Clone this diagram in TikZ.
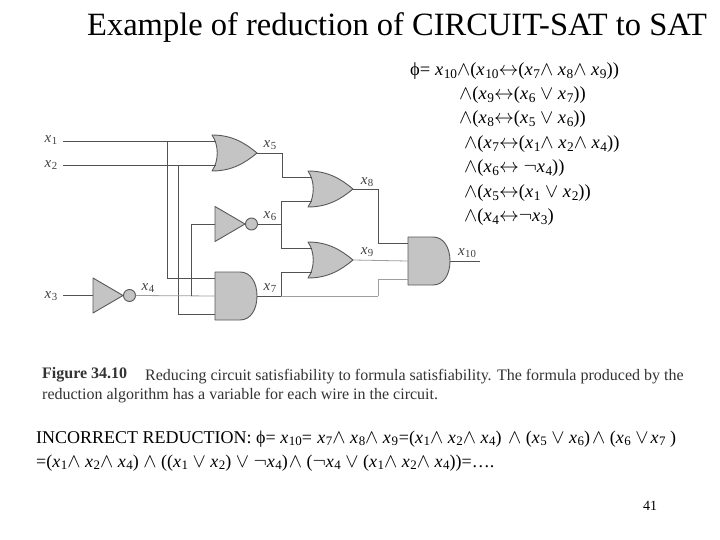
\documentclass[tikz,border=0pt]{standalone}
\usepackage{fontspec}
\setmainfont{Liberation Serif}
\usetikzlibrary{calc}
\newcommand\xv[1]{\textit{x}\kern.03em\raisebox{-.32ex}{\scalebox{.72}{#1}}}
\newcommand\myand{\scalebox{1.15}{$\wedge$}}
\newcommand\myor{\scalebox{1.15}{$\vee$}}
\newcommand\mynot{\scalebox{1.15}{$\neg$}}
\newcommand\myiff{\scalebox{1.15}{$\leftrightarrow$}}
\newcommand\myphi{ϕ}
\tikzset{
  x=1pt,y=-1pt,
  gatebody/.style={draw=black!65,fill=black!23,line width=.9pt,line join=round},
  wire/.style={draw=black!68,line width=.9pt},
  lightwire/.style={draw=black!38,line width=.8pt},
  wlabel/.style={inner sep=0pt,font=\fontsize{15}{15}\selectfont,text=black!75},
  formula/.style={anchor=base west,inner sep=0pt,font=\fontsize{18.5}{18.5}\selectfont},
  bottomline/.style={anchor=base west,inner sep=0pt,font=\fontsize{18}{18}\selectfont},
  captionline/.style={anchor=base west,inner sep=0pt,font=\fontsize{16}{16}\selectfont,text=black!80},
  orgate/.pic={
    \draw[gatebody] (0,-18) .. controls (20,-18) and (33,-10) .. (45,0)
      .. controls (33,10) and (20,18) .. (0,18)
      .. controls (7,8) and (7,-8) .. (0,-18) -- cycle;
    \coordinate (-a) at (3.5,-12);
    \coordinate (-b) at (3.5,12);
    \coordinate (-out) at (45,0);
  },
  andgate/.pic={
    \draw[gatebody] (0,-24) -- (25,-24) .. controls (36,-24) and (42,-13) .. (42,0)
      .. controls (42,13) and (36,24) .. (25,24) -- (0,24) -- cycle;
    \coordinate (-a) at (0,-18);
    \coordinate (-b) at (0,0);
    \coordinate (-c) at (0,18);
    \coordinate (-out) at (42,0);
  },
  notgate/.pic={
    \draw[gatebody] (0,-17.5) -- (30,0) -- (0,17.5) -- cycle;
    \draw[gatebody] (36.5,0) circle (6);
    \coordinate (-in) at (0,0);
    \coordinate (-out) at (42.5,0);
  },
}
\begin{document}
\begin{tikzpicture}
\useasboundingbox (0,0) rectangle (720,540);
\fill[white] (0,0) rectangle (720,540);
% gates
\pic (g5) at (212,153) {orgate};
\pic (g8) at (308,189) {orgate};
\pic (g9) at (308,260) {orgate};
\pic (g7) at (215,296) {andgate};
\pic (g10) at (408,261) {andgate};
\pic (n4) at (93,295.5) {notgate};
\pic (n6) at (215,224) {notgate};
% wire points
\coordinate (in1) at (63,141);
\coordinate (in2) at (63,165);
\coordinate (in3) at (63,295.5);
\coordinate (j1) at (167,141);
\coordinate (j2) at (178,165);
\coordinate (j3) at (191,296);
\coordinate (j6) at (281,224);
\coordinate (j7) at (281,296);
\coordinate (v5) at (282,153);
\coordinate (v8) at (378,189);
\coordinate (v7) at (378,296);
\coordinate (end10) at (480,261);
% wires
\draw[wire] (in1) -- (g5-a);
\draw[wire] (in2) -- (g5-b);
\draw[wire] (in3) -- (n4-in);
\draw[wire] (j1) |- (g7-a);
\draw[wire] (j2) |- (g7-c);
\draw[lightwire] (n4-out) -- (g7-b);
\draw[wire] (j3) |- (n6-in);
\draw[wire] (g5-out) -- (v5) |- (g8-a);
\draw[wire] (n6-out) -- (j6);
\draw[wire] (j6) |- (g8-b);
\draw[wire] (j6) |- (g9-a);
\draw[wire] (g7-out) -- (j7);
\draw[wire] (j7) |- (g9-b);
\draw[lightwire] (j7) -- (v7);
\draw[lightwire] (v7) |- (g10-c);
\draw[wire] (g8-out) -- (v8) |- (g10-a);
\draw[lightwire] (g9-out) -- (g10-b);
\draw[wire] (g10-out) -- (end10);
% wire labels
\node[wlabel] (l1) at (51,140) {\xv{1}};
\node[wlabel] (l2) at (51,165) {\xv{2}};
\node[wlabel] (l3) at (51,296) {\xv{3}};
\node[wlabel] (l4) at (148,288) {\xv{4}};
\node[wlabel] (l5) at (270,145) {\xv{5}};
\node[wlabel] (l6) at (270,216) {\xv{6}};
\node[wlabel] (l7) at (270,288) {\xv{7}};
\node[wlabel] (l8) at (367,182) {\xv{8}};
\node[wlabel] (l9) at (367,252) {\xv{9}};
\node[wlabel] (l10) at (467,253) {\xv{10}};
% title
\node[anchor=base west,inner sep=0pt,font=\fontsize{32.5}{33}\selectfont] (title) at (87,36) {Example of reduction of CIRCUIT-SAT to SAT};
% formula
\node[formula] (f1) at (410,76) {\myphi= \xv{10}\myand(\xv{10}\myiff(\xv{7}\myand\ \xv{8}\myand\ \xv{9}))};
\node[formula] (f2) at (459,100) {\myand(\xv{9}\myiff(\xv{6} \myor\ \xv{7}))};
\node[formula] (f3) at (459,124) {\myand(\xv{8}\myiff(\xv{5} \myor\ \xv{6}))};
\node[formula] (f4) at (464,149) {\myand(\xv{7}\myiff(\xv{1}\myand\ \xv{2}\myand\ \xv{4}))};
\node[formula] (f5) at (464,173) {\myand(\xv{6}\myiff\ \mynot\xv{4}))};
\node[formula] (f6) at (464,198) {\myand(\xv{5}\myiff(\xv{1} \myor\ \xv{2}))};
\node[formula] (f7) at (464,222) {\myand(\xv{4}\myiff\mynot\xv{3})};
% caption
\node[captionline] (c1) at (42,378) {\textbf{Figure 34.10}};
\node[captionline] (c2) at (145,380) {Reducing circuit satisfiability to formula satisfiability. The formula produced by the};
\node[captionline] (c3) at (42,399) {reduction algorithm has a variable for each wire in the circuit.};
% bottom text
\node[bottomline] (b1) at (36,443) {INCORRECT REDUCTION: \myphi= \xv{10}=\kern1pt\ \xv{7}\myand\ \xv{8}\myand\ \xv{9}\kern1pt=(\xv{1}\myand\ \xv{2}\myand\ \xv{4})\kern2pt\ \myand\ (\xv{5} \myor\ \xv{6})\kern2pt\myand\ (\xv{6} \myor\kern2pt\xv{7} )};
\node[bottomline] (b2) at (36,467) {=(\xv{1}\myand\ \xv{2}\myand\ \xv{4}) \myand\ ((\xv{1} \myor\ \xv{2}) \myor\ \mynot\xv{4})\kern1pt\myand\ (\mynot\xv{4} \myor\ (\xv{1}\myand\ \xv{2}\myand\ \xv{4}))=….};
\node[anchor=base west,inner sep=0pt,font=\fontsize{14}{14}\selectfont] (pg) at (643,510) {41};
\end{tikzpicture}
\end{document}
